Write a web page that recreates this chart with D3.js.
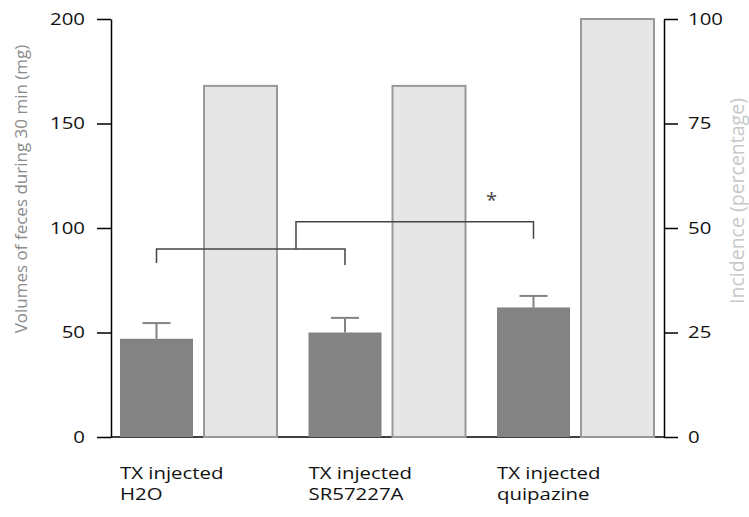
<!DOCTYPE html>
<html>
<head>
<meta charset="utf-8">
<script src="https://cdn.jsdelivr.net/npm/d3@7"></script>
<style>
  html, body { margin: 0; padding: 0; background: #fff; }
  svg { display: block; font-family: "Open Sans", "Noto Sans", sans-serif; }
</style>
</head>
<body>
<svg id="chart" width="749" height="517"></svg>
<script>
// Treatment groups (two-line labels)
const groups = ["TX injected\nH2O", "TX injected\nSR57227A", "TX injected\nquipazine"];
// Volume of feces during 30 min (mg): mean and upper error
const volumes = [47, 50, 62];
const volumeErrors = [7.5, 7, 5.5];
// Incidence (%)
const incidence = [84, 84, 100];
// Axis ticks
const leftTicks = [0, 50, 100, 150, 200];
const rightTicks = [0, 25, 50, 75, 100];
// Significance brackets (levels in mg on the left scale)
const bracketLow = { from: 0, to: 1, level: 90, joint: 0.74 };
const bracketHigh = { to: 2, level: 103, label: "*" };

const svg = d3.select("#chart");
const margin = { top: 19, bottom: 80, left: 111, right: 85 };
const W = 749, H = 517;
const sx = 1.2; // horizontal text widening

const yL = d3.scaleLinear().domain([0, 200]).range([H - margin.bottom, margin.top]);
const yR = d3.scaleLinear().domain([0, 100]).range([H - margin.bottom, margin.top]);

const x = d3.scaleBand().domain(d3.range(groups.length)).range([120, 654]).paddingInner(0.167).paddingOuter(0);
const xs = d3.scaleBand().domain(["vol", "inc"]).range([0, x.bandwidth()]).paddingInner(0.131).paddingOuter(0);

const x0 = margin.left, x1 = W - margin.right;

// baseline
svg.append("line")
  .attr("x1", x0).attr("x2", x1)
  .attr("y1", yL(0)).attr("y2", yL(0))
  .attr("stroke", "#000").attr("stroke-width", 1.5);

// incidence bars
svg.append("g").selectAll("rect").data(incidence).join("rect")
  .attr("x", (d, i) => x(i) + xs("inc"))
  .attr("width", xs.bandwidth())
  .attr("y", d => yR(d))
  .attr("height", d => yR(0) - yR(d))
  .attr("fill", "#e6e6e6")
  .attr("stroke", "#999")
  .attr("stroke-width", 2);

// volume bars
svg.append("g").selectAll("rect").data(volumes).join("rect")
  .attr("x", (d, i) => x(i) + xs("vol"))
  .attr("width", xs.bandwidth())
  .attr("y", d => yL(d))
  .attr("height", d => yL(0) - yL(d))
  .attr("fill", "#838383");

// error bars
const cxVol = i => x(i) + xs("vol") + xs.bandwidth() / 2;
const eb = svg.append("g").attr("stroke", "#838383").attr("stroke-width", 2);
volumes.forEach((v, i) => {
  const cx = cxVol(i);
  const top = yL(v + volumeErrors[i]);
  eb.append("line").attr("x1", cx).attr("x2", cx).attr("y1", yL(v)).attr("y2", top);
  eb.append("line").attr("x1", cx - 14).attr("x2", cx + 14).attr("y1", top).attr("y2", top);
});

// significance brackets
const br = svg.append("g").attr("fill", "none").attr("stroke", "#444").attr("stroke-width", 1.5);
const lowY = yL(bracketLow.level);
const lowL = cxVol(bracketLow.from), lowR = cxVol(bracketLow.to);
br.append("path").attr("d", `M${lowL},${lowY + 14}V${lowY}H${lowR}V${lowY + 16}`);
const jointX = lowL + (lowR - lowL) * bracketLow.joint;
const highY = yL(bracketHigh.level);
const highR = cxVol(bracketHigh.to);
br.append("path").attr("d", `M${jointX},${lowY}V${highY}H${highR}V${highY + 17}`);
svg.append("text")
  .attr("x", highR - 42).attr("y", highY - 15)
  .attr("text-anchor", "middle").attr("font-size", 20).attr("fill", "#444")
  .text(bracketHigh.label);

// widen axis tick labels horizontally around their own anchor
function widen(sel) {
  sel.attr("x", function () { return +this.getAttribute("x") / sx; })
     .attr("transform", `scale(${sx},1)`);
}

// left axis
const axL = svg.append("g").attr("transform", `translate(${x0},0)`)
  .call(d3.axisLeft(yL).tickValues(leftTicks).tickSize(14).tickSizeOuter(0).tickPadding(12));
axL.select(".domain").attr("stroke", "#000").attr("stroke-width", 1.5);
axL.selectAll(".tick line").attr("stroke", "#000").attr("stroke-width", 1.5);
axL.selectAll(".tick text").attr("font-size", 17).attr("fill", "#111").attr("font-family", "Open Sans").call(widen);

// right axis
const axR = svg.append("g").attr("transform", `translate(${x1},0)`)
  .call(d3.axisRight(yR).tickValues(rightTicks).tickSize(14).tickSizeOuter(0).tickPadding(10));
axR.select(".domain").attr("stroke", "#000").attr("stroke-width", 1.5);
axR.selectAll(".tick line").attr("stroke", "#000").attr("stroke-width", 1.5);
axR.selectAll(".tick text").attr("font-size", 17).attr("fill", "#111").attr("font-family", "Open Sans").call(widen);

// axis titles
svg.append("text")
  .attr("transform", `translate(27,${(yL(0) + yL(200)) / 2 - 39}) rotate(-90)`)
  .attr("text-anchor", "middle").attr("font-size", 17).attr("fill", "#8a8a8a")
  .text("Volumes of feces during 30 min (mg)");
svg.append("text")
  .attr("transform", `translate(744,${(yR(0) + yR(100)) / 2 - 27}) rotate(-90)`)
  .attr("text-anchor", "middle").attr("font-size", 19.5).attr("fill", "#c8c8c8")
  .text("Incidence (percentage)");

// category labels
groups.forEach((g, i) => {
  const t = svg.append("text")
    .attr("transform", `translate(${x(i)},479) scale(${sx},1)`)
    .attr("font-size", 17).attr("fill", "#111");
  g.split("\n").forEach((line, k) => {
    t.append("tspan").attr("x", 0).attr("dy", k === 0 ? 0 : 21).text(line);
  });
});
</script>
</body>
</html>
